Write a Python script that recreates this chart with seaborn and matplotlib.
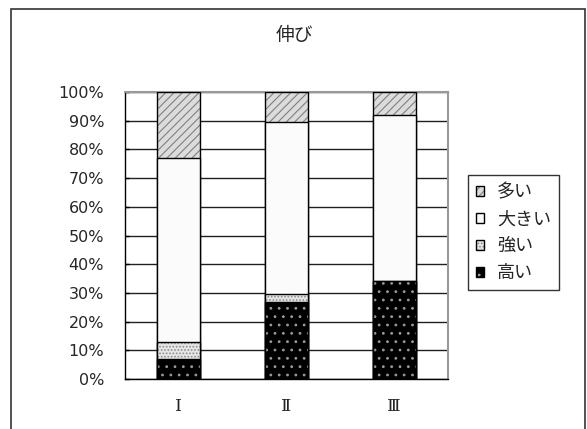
import matplotlib
matplotlib.use('Agg')
import matplotlib.pyplot as plt
from matplotlib.patches import Rectangle
from matplotlib.colors import to_rgba
import seaborn as sns
import pandas as pd
import numpy as np

groups = ['Ⅰ', 'Ⅱ', 'Ⅲ']
takai = [7, 27, 34]        # 高い (bottom)
tsuyoi = [6, 2.5, 0]       # 強い
ookii = [64, 60, 58]       # 大きい
ooi = [23, 10.5, 8]        # 多い (top)

sns.set_theme(style='white')
plt.rcParams['font.family'] = ['Noto Sans CJK JP', 'DejaVu Sans']
plt.rcParams['hatch.linewidth'] = 0.8

# name, values, face, hatch colour, hatch (bottom -> top)
layers = [
    ('高い', takai, '#000000', '#9a9a9a', '..'),
    ('強い', tsuyoi, '#e6e6e6', '#8c8c8c', '.....'),
    ('大きい', ookii, '#fbfbfb', '#fbfbfb', ''),
    ('多い', ooi, '#dcdcdc', '#808080', '////'),
]

df = pd.DataFrame({'group': groups})
cum = np.zeros(len(groups))
for name, vals, _, _, _ in layers:
    cum = cum + np.array(vals)
    df[name] = cum

fig = plt.figure(figsize=(5.87, 4.29), dpi=100)
ax = fig.add_axes([125 / 587, 50 / 429, 323 / 587, 287 / 429])

handles = {}
# draw the tallest cumulative layer first so lower ones sit on top
for name, _, face, hcol, hatch in reversed(layers):
    n0 = len(ax.patches)
    sns.barplot(data=df, x='group', y=name, color=face, width=0.4,
                saturation=1, hatch=hatch, ax=ax, zorder=3)
    for p in ax.patches[n0:]:
        p.set_facecolor(face)
        p.set_edgecolor('black')
        p.set_linewidth(1.0)
        p._hatch_color = to_rgba(hcol)
    handles[name] = ax.patches[n0]

ax.set_xlim(-0.5, 2.5)
ax.set_ylim(0, 100)
ax.set_yticks(np.arange(0, 101, 10))
ax.set_yticklabels([f'{v}%' for v in range(0, 101, 10)], fontsize=11.5,
                   family=['DejaVu Sans'])
ax.set_xticks(range(3))
ax.set_xticklabels(groups, fontsize=12.5, family=['DejaVu Serif', 'Noto Sans CJK JP'])
ax.set_xticks([-0.5, 0.5, 1.5, 2.5], minor=True)
ax.tick_params(axis='x', which='major', length=0, pad=14)
ax.tick_params(axis='x', which='minor', direction='in', length=4, width=1, color='black')
ax.tick_params(axis='y', direction='in', length=3, width=1, color='black', left=True, pad=15)
ax.set_xlabel('')
ax.set_ylabel('')
ax.grid(axis='y', color='#202020', linewidth=1, zorder=0)
ax.set_axisbelow(True)
for s in ['left', 'bottom']:
    ax.spines[s].set_color('black')
    ax.spines[s].set_linewidth(1)
for s in ['top', 'right']:
    ax.spines[s].set_color('#999999')
    ax.spines[s].set_linewidth(1.5)

fig.text(294 / 587, 1 - 35 / 429, '伸び', ha='center', va='center', fontsize=13.5)

order = ['多い', '大きい', '強い', '高い']
leg = fig.legend([handles[k] for k in order], order, loc='upper left',
                 bbox_to_anchor=(468 / 587, 1 - 175 / 429), fontsize=13,
                 frameon=True, fancybox=False, handlelength=0.45, handleheight=0.45,
                 handletextpad=0.7, borderpad=0.45, labelspacing=0.5, borderaxespad=0)
leg.get_frame().set_edgecolor('black')
leg.get_frame().set_linewidth(1)

fig.patches.append(Rectangle((11 / 587, -0.05), 574 / 587, 1.05 - 9 / 429,
                             transform=fig.transFigure, fill=False,
                             edgecolor='#333333', linewidth=1.2))

fig.savefig('out.png', dpi=100)
